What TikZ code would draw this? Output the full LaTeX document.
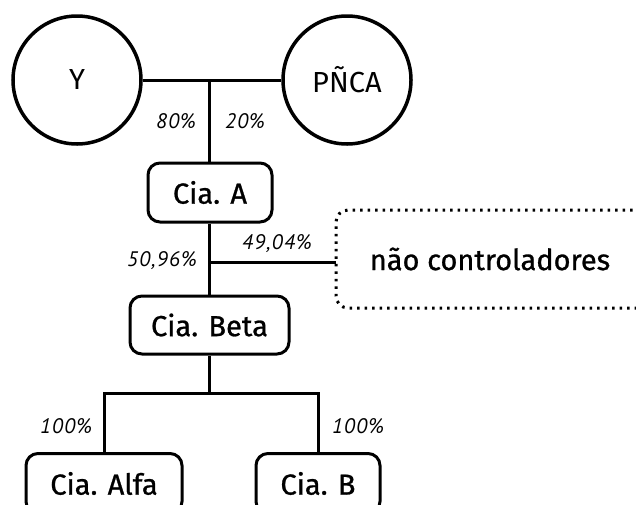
\documentclass[tikz,border=0pt]{standalone}
\usepackage{fontspec}
\setmainfont{Fira Sans}
\newfontfamily\boxfont[FakeBold=0.9]{Fira Sans}
\newfontfamily\pctfont[LetterSpace=6]{PT Sans}
\begin{document}
\begin{tikzpicture}[x=1pt,y=-1pt,
  circ/.style={draw,line width=3.5pt,circle,minimum size=128pt,inner sep=0pt,font=\fontsize{29}{32}\selectfont},
  cia/.style={draw,line width=3pt,rounded corners=12pt,inner sep=0pt,font=\boxfont\fontsize{29}{32}\selectfont},
  pct/.style={font=\pctfont\itshape\fontsize{21}{24}\selectfont,inner sep=0pt},
  conn/.style={line width=3pt}]
\useasboundingbox (0,0) rectangle (636,504);
\clip (0,0) rectangle (636,504);
\node[circ] (y) at (77,80) {Y};
\node[circ] (p) at (347,80) {PÑCA};
\node[cia,minimum width=124pt,minimum height=59pt] (a) at (210,192.5) {Cia. A};
\node[cia,minimum width=159pt,minimum height=58pt] (beta) at (209.5,325) {Cia. Beta};
\node[cia,minimum width=156pt,minimum height=60pt,anchor=north] (alfa) at (104,452) {Cia. Alfa};
\node[cia,minimum width=124pt,minimum height=60pt,anchor=north] (b) at (318,452) {Cia. B};
\draw[line width=3pt,dash pattern=on 2.5pt off 5pt,rounded corners=12pt] (700,210) -- (336,210) -- (336,308) -- (700,308);
\coordinate (nc) at (336,262);
\node[font=\boxfont\fontsize{29}{32}\selectfont,inner sep=0pt] (ntxt) at (490,259) {não controladores};
\coordinate (j1) at (209,80);
\draw[conn] (y) -- (p);
\draw[conn] (j1) -- (a.north -| j1);
\coordinate (j2) at (209,262);
\draw[conn] (a.south -| j2) -- (beta.north -| j2);
\draw[conn] (j2) -- (nc);
\coordinate (j3) at (209,393);
\draw[conn] (beta.south -| j3) -- (j3);
\draw[conn] (alfa.north) -- (alfa.north |- j3) -- (b.north |- j3) -- (b.north);
\node[pct] at (176,121) {80\%};
\node[pct] at (245,121) {20\%};
\node[pct] at (162,261) {50,96\%};
\node[pct] at (277,244) {49,04\%};
\node[pct] at (66,426) {100\%};
\node[pct] at (358,426) {100\%};
\end{tikzpicture}
\end{document}
